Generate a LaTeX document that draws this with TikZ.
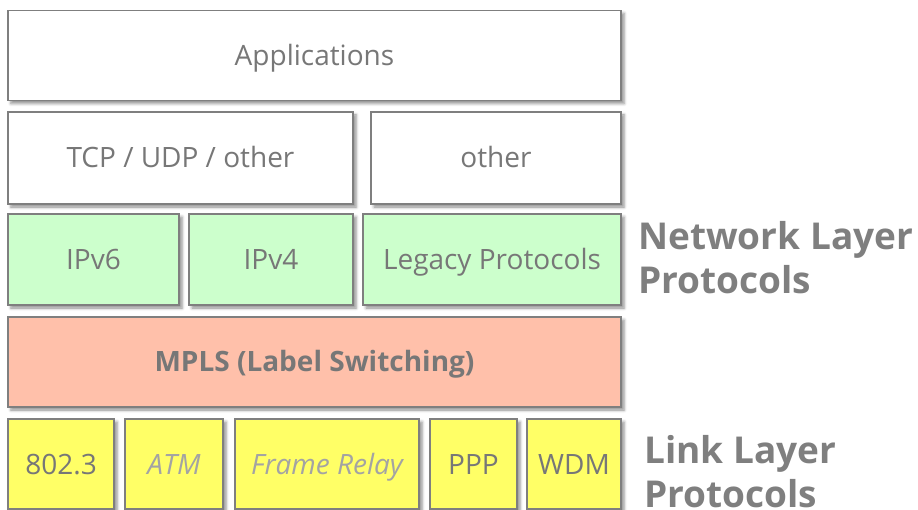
\documentclass[tikz,border=0pt]{standalone}
\usepackage{fontspec}
\setmainfont{Open Sans}
\usetikzlibrary{shadows.blur}
\definecolor{txtgray}{HTML}{777777}
\definecolor{lightgray}{HTML}{A3A3A3}
\definecolor{edgegray}{HTML}{7F7F7F}
\definecolor{netgreen}{HTML}{CCFFCC}
\definecolor{mplsred}{HTML}{FFC0AA}
\definecolor{linkyellow}{HTML}{FFFF66}
\tikzset{
  layerbox/.style={draw=edgegray, line width=1.5pt, fill=white, inner sep=0pt,
    text height=20pt, text depth=0pt,
    text=txtgray, font=\fontsize{28}{33}\selectfont,
    blur shadow={shadow xshift=3pt, shadow yshift=-3pt, shadow blur radius=3pt, shadow opacity=45}},
  netbox/.style={layerbox, fill=netgreen},
  mplsbox/.style={layerbox, fill=mplsred, font=\fontsize{28}{33}\selectfont\bfseries},
  linkbox/.style={layerbox, fill=linkyellow},
  oldlink/.style={text=lightgray, font=\fontsize{28}{33}\selectfont\itshape},
  sidelabel/.style={text=edgegray, font=\fontsize{37}{44}\selectfont\bfseries, align=left, inner sep=0pt}
}
\begin{document}
\begin{tikzpicture}[x=1pt, y=-1pt]
\useasboundingbox (0,0) rectangle (918,510);
% upper layers
\node[layerbox, minimum width=613pt, minimum height=90pt] (app) at (314.5,55.5) {Applications};
\node[layerbox, minimum width=345pt, minimum height=92pt] (tcp) at (180.5,158) {TCP / UDP / other};
\node[layerbox, minimum width=250pt, minimum height=92pt] (oth) at (496,158) {other};
% network layer
\node[netbox, minimum width=171pt, minimum height=91pt] (ipv6) at (93.5,259.5) {IPv6};
\node[netbox, minimum width=164pt, minimum height=91pt] (ipv4) at (271,259.5) {IPv4};
\node[netbox, minimum width=258pt, minimum height=91pt] (legacy) at (492,259.5) {Legacy Protocols};
% label switching
\node[mplsbox, minimum width=613pt, minimum height=90pt] (mpls) at (314.5,362) {MPLS (Label Switching)};
% link layer
\node[linkbox, minimum width=106pt, minimum height=90pt] (eth) at (61,464) {802.3};
\node[linkbox, oldlink, minimum width=98pt, minimum height=90pt] (atm) at (174,464) {ATM};
\node[linkbox, oldlink, minimum width=184pt, minimum height=90pt] (fr) at (327,464) {Frame Relay};
\node[linkbox, minimum width=87pt, minimum height=90pt] (ppp) at (473.5,464) {PPP};
\node[linkbox, minimum width=94pt, minimum height=90pt] (wdm) at (574,464) {WDM};
% side labels (anchored on the baseline of the last line)
\node[sidelabel, anchor=base west] (netlbl) at (638,294) {Network Layer\\Protocols};
\node[sidelabel, anchor=base west] (linklbl) at (644,507) {Link Layer\\Protocols};
\end{tikzpicture}
\end{document}
